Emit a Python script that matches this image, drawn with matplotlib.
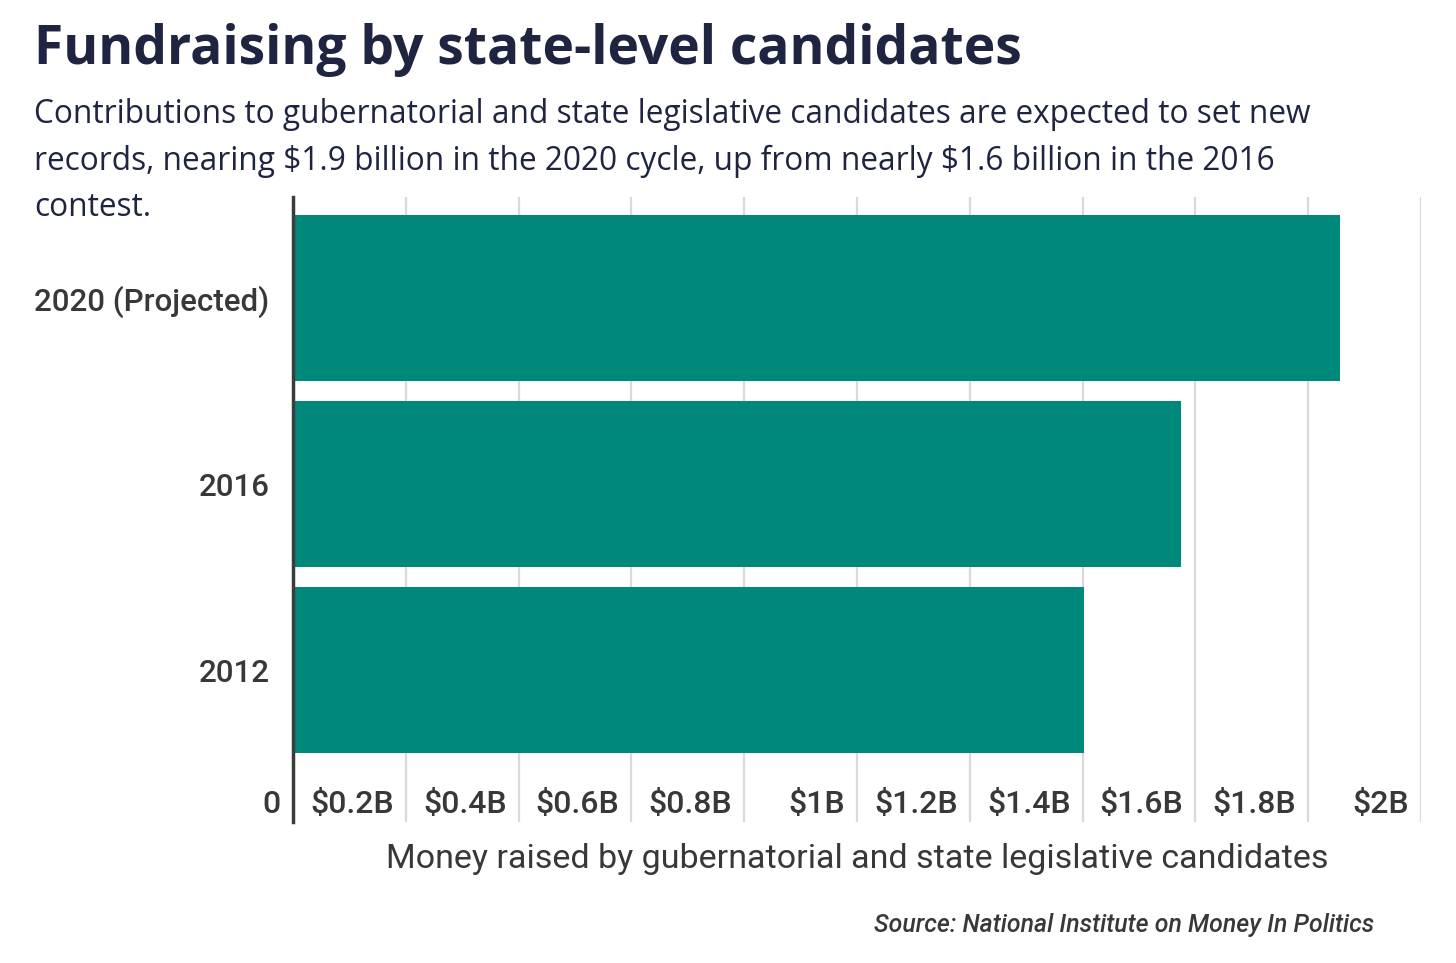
import matplotlib.pyplot as plt
from matplotlib.transforms import ScaledTranslation

# chart data
years = ['2012', '2016', '2020 (Projected)']
raised = [1.403, 1.574, 1.856]   # billions of dollars
ticks = [0, 0.2, 0.4, 0.6, 0.8, 1.0, 1.2, 1.4, 1.6, 1.8, 2.0]
tick_labels = ['0', r'\$0.2B', r'\$0.4B', r'\$0.6B', r'\$0.8B', r'\$1B',
               r'\$1.2B', r'\$1.4B', r'\$1.6B', r'\$1.8B', r'\$2B']

teal = '#00897b'
navy = '#1f2541'
grey_text = '#383838'

fig = plt.figure(figsize=(14.56, 9.63), dpi=100)
ax = fig.add_axes([0.2012, 0.1464, 0.7747, 0.6490])

ax.barh(range(len(years)), raised, height=0.89, color=teal, zorder=2)
ax.set_ylim(-0.817, 2.543)
ax.set_xlim(0, 2.0)

# gridlines and spines
for s in ['top', 'right', 'bottom']:
    ax.spines[s].set_visible(False)
ax.spines['left'].set_color('#3c3c3c')
ax.spines['left'].set_linewidth(2.5)
ax.spines['left'].set_zorder(3)
ax.set_xticks(ticks)
ax.xaxis.grid(True, color='#d9d9d9', linewidth=1.6, zorder=1)
ax.set_axisbelow(True)

# y labels
ax.set_yticks(range(len(years)))
ax.set_yticklabels(years, fontsize=22.5, fontfamily='Roboto', fontweight='medium', color=grey_text)
ax.tick_params(axis='y', length=0, pad=17)

# x labels drawn inside the plot area, left of each gridline
ax.set_xticklabels(tick_labels, fontsize=23, fontfamily='Roboto', fontweight='medium', color=grey_text)
ax.tick_params(axis='x', length=0, pad=0)
offset = ScaledTranslation(-12 / 100, 32 / 100, fig.dpi_scale_trans)
for lab in ax.get_xticklabels():
    lab.set_horizontalalignment('right')
    lab.set_transform(lab.get_transform() + offset)

ax.set_xlabel('Money raised by gubernatorial and state legislative candidates',
              fontsize=24.5, fontfamily='Roboto', color=grey_text, labelpad=15)

# titles
fig.text(34 / 1456, 1 - 64 / 963, 'Fundraising by state-level candidates',
         fontsize=38.4, fontfamily='Open Sans', fontweight='bold', color=navy, va='baseline')
sub = ['Contributions to gubernatorial and state legislative candidates are expected to set new',
       r'records, nearing \$1.9 billion in the 2020 cycle, up from nearly \$1.6 billion in the 2016',
       'contest.']
for i, line in enumerate(sub):
    fig.text(34 / 1456, 1 - (123 + 46.5 * i) / 963, line,
             fontsize=22.8, fontfamily='Open Sans', color=navy, va='baseline')

fig.text(1374 / 1456, 1 - 932 / 963, 'Source: National Institute on Money In Politics',
         fontsize=17.9, fontfamily='Roboto', fontstyle='italic', fontweight='medium',
         color=grey_text, ha='right', va='baseline')

fig.savefig('out.png', dpi=100)
